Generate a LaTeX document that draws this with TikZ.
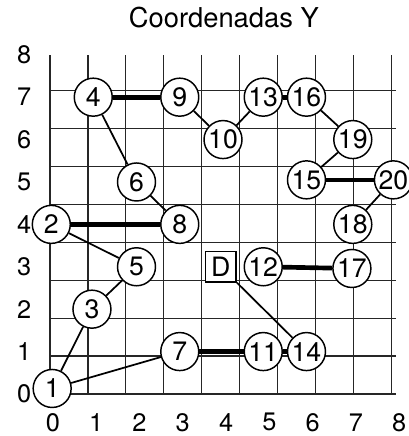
\documentclass[tikz,border=0pt]{standalone}
\usepackage{fontspec}
\setmainfont{TeX Gyre Heros}
\begin{document}
\begin{tikzpicture}[x=32.44pt,y=31.8pt,
  gridline/.style={line width=0.9pt,black!85},
  pt/.style={circle,draw,line width=1.1pt,fill=white,minimum size=28.5pt,inner sep=0pt,font=\fontsize{20pt}{20pt}\selectfont},
  sq/.style={rectangle,draw,line width=1.1pt,fill=white,minimum size=23pt,inner sep=0pt,font=\fontsize{20pt}{20pt}\selectfont},
  thin/.style={line width=1.3pt},
  thick/.style={line width=3.5pt},
  lab/.style={inner sep=0pt,font=\fontsize{19pt}{19pt}\selectfont}]
\useasboundingbox (-1.156,-0.991) rectangle (8.277,9.292);
\draw[gridline] (0,0) grid (8,8);
\node[inner sep=0pt,font=\fontsize{20.5pt}{20.5pt}\selectfont] (title) at (4.02,8.87) {Coordenadas Y};
\foreach \i in {0,...,8} {
  \node[lab] (yl\i) at (-0.6,\i) {\i};
  \node[lab] (xl\i) at (\i+0.07,-0.67) {\i};
}
\node[pt] (n1) at (0.05,0.13) {1};
\node[pt] (n2) at (0.03,4) {2};
\node[pt] (n3) at (0.97,2) {3};
\node[pt] (n4) at (1,7) {4};
\node[pt] (n5) at (2,3) {5};
\node[pt] (n6) at (2,5) {6};
\node[pt] (n7) at (3,1) {7};
\node[pt] (n8) at (3,4) {8};
\node[pt] (n9) at (3,7) {9};
\node[pt] (n10) at (4,6) {10};
\node[pt] (n11) at (4.93,1) {11};
\node[pt] (n12) at (4.93,3) {12};
\node[pt] (n13) at (4.93,7) {13};
\node[pt] (n14) at (5.93,1) {14};
\node[pt] (n15) at (5.93,5.05) {15};
\node[pt] (n16) at (5.93,7) {16};
\node[pt] (n17) at (6.98,2.96) {17};
\node[pt] (n18) at (7,4) {18};
\node[pt] (n19) at (7,6) {19};
\node[pt] (n20) at (7.94,5.05) {20};
\node[sq] (D) at (3.95,3) {D};
\draw[thick] (n4) -- (n9);
\draw[thin] (n4) -- (n6);
\draw[thin] (n9) -- (n10);
\draw[thin] (n10) -- (n13);
\draw[thick] (n13) -- (n16);
\draw[thin] (n16) -- (n19);
\draw[thin] (n19) -- (n15);
\draw[thick] (n15) -- (n20);
\draw[thin] (n20) -- (n18);
\draw[thin] (n6) -- (n8);
\draw[thick] (n2) -- (n8);
\draw[thin] (n2) -- (n5);
\draw[thin] (n5) -- (n3);
\draw[thin] (n3) -- (n1);
\draw[thin] (n1) -- (n7);
\draw[thick] (n7) -- (n11);
\draw[thick] (n11) -- (n14);
\draw[thin] (D) -- (n14);
\draw[thick] (n12) -- (n17);
\end{tikzpicture}
\end{document}
